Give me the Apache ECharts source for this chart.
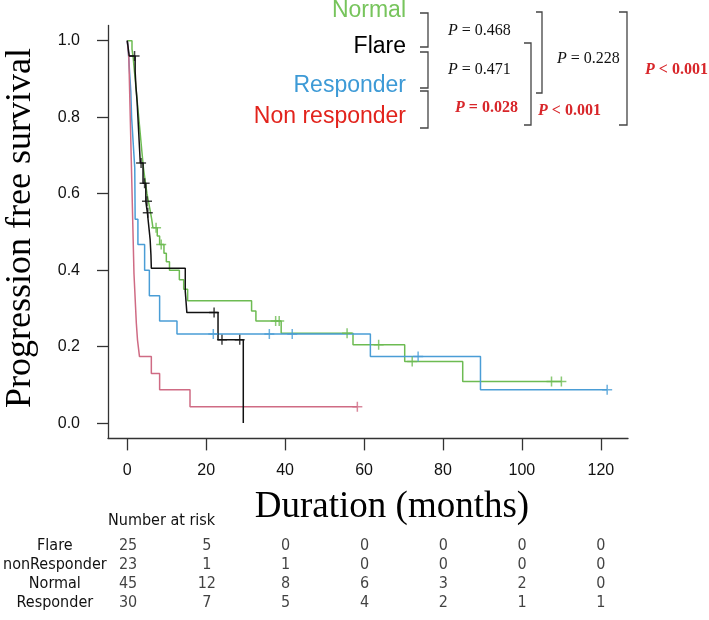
<!DOCTYPE html>
<html>
<head>
<meta charset="utf-8">
<script src="https://cdn.jsdelivr.net/npm/echarts@6/dist/echarts.min.js"></script>
<style>html,body{margin:0;padding:0;background:#fff}#c{width:709px;height:620px}</style>
</head>
<body>
<div id="c"></div>
<script>
// ---- data ----
const xTicks = [0, 20, 40, 60, 80, 100, 120];
const yTicks = [0, 0.2, 0.4, 0.6, 0.8, 1.0];

const flareT = [0, 0.5, 2.0, 2.2, 2.5, 2.7, 2.9, 3.1, 3.3, 4.0, 4.7, 5.1, 5.4, 5.8, 6.0, 6.1, 14.7, 15.1, 23.0, 29.4];
const flareS = [1, 0.96, 0.92, 0.88, 0.84, 0.80, 0.76, 0.72, 0.68, 0.627, 0.58, 0.55, 0.52, 0.48, 0.44, 0.405, 0.344, 0.289, 0.218, 0];
const flareCens = [1.85, 3.5, 4.4, 5.0, 5.2, 22.0, 24.0, 28.5];

const nonT = [0, 0.4, 0.5, 0.6, 0.7, 0.8, 0.9, 1.0, 1.1, 1.2, 1.3, 1.4, 1.5, 1.6, 1.7, 1.9, 2.1, 2.3, 2.6, 3.1, 6.1, 8.2, 15.9, 58.3];
const nonS = [1, 0.957, 0.913, 0.870, 0.826, 0.783, 0.739, 0.696, 0.652, 0.609, 0.565, 0.522, 0.478, 0.435, 0.391, 0.348, 0.304, 0.261, 0.217, 0.174, 0.130, 0.087, 0.043, 0.043];
const nonCens = [58.3];

const respT = [0, 0.3, 0.5, 0.7, 0.9, 1.0, 1.1, 1.3, 1.5, 1.7, 1.9, 2.0, 2.7, 4.4, 5.6, 8.2, 12.6, 61.6, 89.5, 121.6];
const respS = [1, 0.967, 0.933, 0.9, 0.867, 0.833, 0.8, 0.767, 0.733, 0.7, 0.667, 0.533, 0.467, 0.4, 0.333, 0.267, 0.233, 0.174, 0.087, 0.087];
const respCens = [21.8, 36.0, 41.8, 73.7, 121.6];

const normT = [0, 1.2, 1.5, 1.7, 1.9, 2.1, 2.3, 2.5, 2.7, 2.9, 3.1, 3.3, 3.5, 3.7, 3.9, 4.1, 4.4, 4.7, 5.0, 5.4, 5.8, 6.2, 6.5, 7.6, 8.2, 9.3, 9.9, 10.7, 13.2, 14.3, 15.3, 31.5, 32.6, 39.0, 57.2, 70.3, 85.0, 110.0];
const normS = [1, 0.978, 0.956, 0.933, 0.911, 0.889, 0.867, 0.844, 0.822, 0.8, 0.778, 0.756, 0.733, 0.711, 0.689, 0.667, 0.644, 0.622, 0.6, 0.578, 0.556, 0.533, 0.511, 0.489, 0.467, 0.444, 0.422, 0.40, 0.375, 0.35, 0.32, 0.293, 0.267, 0.235, 0.205, 0.161, 0.109, 0.109];
const normCens = [7.3, 8.6, 37.6, 38.5, 55.7, 63.7, 72.2, 107.5, 110.0];

const riskTimes = [0, 20, 40, 60, 80, 100, 120];
const riskRows = ['Flare', 'nonResponder', 'Normal', 'Responder'];
const riskFlare = [25, 5, 0, 0, 0, 0, 0];
const riskNon = [23, 1, 1, 0, 0, 0, 0];
const riskNormal = [45, 12, 8, 6, 3, 2, 0];
const riskResp = [30, 7, 5, 4, 2, 1, 1];

// ---- helpers ----
function hasFont(name) {
  const c = document.createElement('canvas').getContext('2d');
  const s = 'nonResponder 0123456789';
  c.font = '40px monospace'; const a = c.measureText(s).width;
  c.font = '40px "' + name + '", monospace'; const b = c.measureText(s).width;
  return Math.abs(a - b) > 0.5;
}
let tblFont = 'Liberation Sans', tblSize = 15;
if (hasFont('Liberation Sans Narrow')) { tblFont = 'Liberation Sans Narrow'; tblSize = 18; }
else if (hasFont('DejaVu Sans Condensed')) { tblFont = 'DejaVu Sans Condensed'; tblSize = 16; }

const pairs = (T, S) => T.map((t, i) => [t, S[i]]);
const stepAt = (T, S, t) => { let v = S[0]; for (let i = 0; i < T.length; i++) if (T[i] <= t) v = S[i]; return v; };
const censPts = (T, S, C) => C.map(t => [t, stepAt(T, S, t)]);

const COL = { normal: '#6dbb52', flare: '#111111', resp: '#4a9dd6', non: '#cf6b84' };
const PLUS = 'path://M8.5,0H11.5V8.5H20V11.5H11.5V20H8.5V11.5H0V8.5H8.5Z';

function curve(name, T, S, color) {
  return { type: 'line', name, data: pairs(T, S), step: 'end', showSymbol: false, symbol: 'none',
    lineStyle: { color, width: 1.5 }, itemStyle: { color }, z: 2, silent: true };
}
function cens(T, S, C, color) {
  return { type: 'scatter', data: censPts(T, S, C), symbol: PLUS, symbolSize: 10,
    itemStyle: { color }, z: 3, silent: true };
}
const riskAll = [riskFlare, riskNon, riskNormal, riskResp];
const riskData = [];
riskAll.forEach((row, r) => row.forEach((n, k) => riskData.push([riskTimes[k], r, n])));

const axisCol = '#333';
const option = {
  animation: false,
  grid: [
    { left: 108, top: 25.4, width: 520, height: 413 },
    { left: 108, top: 536, width: 520, height: 76 }
  ],
  xAxis: [
    { type: 'value', gridIndex: 0, min: -4.88, max: 126.88,
      axisLine: { show: true, onZero: false, lineStyle: { color: axisCol, width: 1.3 } },
      axisTick: { show: true, customValues: xTicks, length: 12, lineStyle: { color: axisCol, width: 1.3 } },
      axisLabel: { customValues: xTicks, margin: 24, fontSize: 16, color: '#111', fontFamily: 'Liberation Sans' },
      splitLine: { show: false } },
    { type: 'value', gridIndex: 1, min: -4.88, max: 126.88, show: false }
  ],
  yAxis: [
    { type: 'value', gridIndex: 0, min: -0.04, max: 1.04,
      axisLine: { show: true, onZero: false, lineStyle: { color: axisCol, width: 1.3 } },
      axisTick: { show: true, customValues: yTicks, length: 11, lineStyle: { color: axisCol, width: 1.3 } },
      axisLabel: { customValues: yTicks, formatter: v => v.toFixed(1), margin: 28, fontSize: 16, color: '#111', fontFamily: 'Liberation Sans' },
      splitLine: { show: false } },
    { type: 'category', gridIndex: 1, data: riskRows, inverse: true,
      axisLine: { show: false }, axisTick: { show: false },
      axisLabel: { interval: 0, align: 'center', margin: 54, fontSize: tblSize, fontFamily: tblFont, color: '#111' } }
  ],
  series: [
    curve('Normal', normT, normS, COL.normal),
    curve('Responder', respT, respS, COL.resp),
    curve('Non responder', nonT, nonS, COL.non),
    curve('Flare', flareT, flareS, COL.flare),
    cens(normT, normS, normCens, COL.normal),
    cens(respT, respS, respCens, COL.resp),
    cens(nonT, nonS, nonCens, COL.non),
    cens(flareT, flareS, flareCens, COL.flare),
    { type: 'scatter', xAxisIndex: 1, yAxisIndex: 1, data: riskData, symbol: 'circle', symbolSize: 1,
      itemStyle: { color: 'rgba(0,0,0,0)' }, silent: true,
      label: { show: true, position: 'inside', formatter: p => String(p.value[2]), fontSize: tblSize, fontFamily: tblFont, color: '#111' } }
  ],
  graphic: []
};

// annotations
const g = option.graphic;
function txt(x, y, text, font, fill, align) {
  g.push({ type: 'text', x, y, silent: true,
    style: { text, font, fill, align: align || 'left', verticalAlign: 'middle', textAlign: align || 'left', textVerticalAlign: 'middle' } });
}
txt(406, 11, 'Normal', '23px "Liberation Sans"', '#77c45c', 'right');
txt(406, 47, 'Flare', '23px "Liberation Sans"', '#000', 'right');
txt(406, 86, 'Responder', '23px "Liberation Sans"', '#3d9ad6', 'right');
txt(406, 117, 'Non responder', '23px "Liberation Sans"', '#e2231c', 'right');

function bracket(x0, x1, y0, y1) {
  g.push({ type: 'polyline', silent: true, shape: { points: [[x0, y0], [x1, y0], [x1, y1], [x0, y1]] },
    style: { stroke: '#444', lineWidth: 1.3, fill: null } });
}
bracket(420, 428, 13, 47);
bracket(420, 428, 52, 88);
bracket(420, 428, 91, 128);
bracket(524, 531, 43, 125);
bracket(536, 542, 12, 93);
bracket(619, 627, 12, 125);

function ptext(x, y, rel, val, red) {
  const color = red ? '#d8262a' : '#111';
  const w = red ? 'bold' : 'normal';
  g.push({ type: 'text', x, y, silent: true,
    style: { text: '{i|P}{n| ' + rel + ' ' + val + '}', verticalAlign: 'middle', textVerticalAlign: 'middle',
      rich: {
        i: { fontFamily: 'Liberation Serif', fontStyle: 'italic', fontWeight: w, fontSize: 16, fill: color, color },
        n: { fontFamily: 'Liberation Serif', fontWeight: w, fontSize: 16, fill: color, color }
      } } });
}
ptext(448, 31, '=', '0.468', false);
ptext(448, 70, '=', '0.471', false);
ptext(455, 108, '=', '0.028', true);
ptext(538, 111, '<', '0.001', true);
ptext(557, 59, '=', '0.228', false);
ptext(645, 70, '<', '0.001', true);

g.push({ type: 'text', x: 21, y: 228, rotation: Math.PI / 2, silent: true,
  style: { text: 'Progression free survival', font: '36px "Liberation Serif"', fill: '#000',
    align: 'center', verticalAlign: 'middle', textAlign: 'center', textVerticalAlign: 'middle' } });
g.push({ type: 'text', x: 392, y: 507, silent: true,
  style: { text: 'Duration (months)', font: '37px "Liberation Serif"', fill: '#000',
    align: 'center', verticalAlign: 'middle', textAlign: 'center', textVerticalAlign: 'middle' } });
g.push({ type: 'text', x: 108, y: 521, silent: true,
  style: { text: 'Number at risk', font: tblSize + 'px "' + tblFont + '"', fill: '#111',
    align: 'left', verticalAlign: 'middle', textAlign: 'left', textVerticalAlign: 'middle' } });

const chart = echarts.init(document.getElementById('c'), null, { renderer: 'canvas' });
chart.setOption(option);
</script>
</body>
</html>
